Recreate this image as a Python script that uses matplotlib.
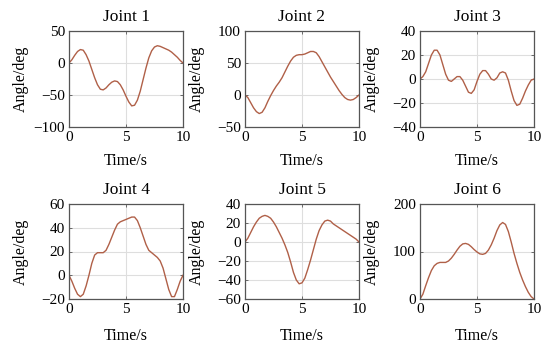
import numpy as np
import matplotlib
matplotlib.use("Agg")
import matplotlib.pyplot as plt

plt.rcParams['font.family'] = ['Liberation Serif', 'DejaVu Serif']
plt.rcParams['axes.unicode_minus'] = True

# time samples (s)
t = [i * 0.25 for i in range(41)]

# joint angles (deg)
joint1 = [0, 5, 12, 18, 21, 20, 13, 3, -10, -23, -34, -41, -42, -39, -34, -30, -28, -29, -34, -42,
          -52, -61, -67, -66, -58, -44, -26, -8, 8, 19, 25, 27, 26, 24, 22, 20, 17, 13, 9, 4, 0]
joint2 = [0, -4, -12, -20, -26, -29, -27, -20, -10, -1, 7, 14, 20, 27, 36, 45, 53, 59, 62, 63,
          63, 64, 66, 68, 68, 66, 60, 52, 44, 36, 28, 21, 14, 7, 1, -4, -7, -8, -7, -4, 0]
joint3 = [0, 2, 6, 13, 20, 24, 24, 20, 12, 4, -1, -2, 0, 2, 2, -1, -6, -11, -12, -9,
          -2, 4, 7, 7, 4, 0, -1, 1, 5, 6, 5, -1, -10, -18, -22, -21, -16, -10, -5, -1, 0]
joint4 = [0, -5, -11, -16, -18, -16, -9, 0, 10, 17, 19, 19, 19, 21, 26, 32, 38, 43, 45, 46,
          47, 48, 49, 49, 46, 40, 33, 26, 21, 19, 17, 15, 12, 6, -3, -12, -18, -18, -12, -5, 0]
joint5 = [0, 4, 10, 16, 21, 25, 27, 28, 27, 25, 21, 16, 10, 4, -3, -11, -21, -32, -40, -44,
          -43, -38, -29, -19, -8, 3, 12, 18, 22, 23, 22, 19, 17, 15, 13, 11, 9, 7, 5, 3, 0]
joint6 = [0, 10, 28, 45, 60, 70, 75, 77, 77, 77, 80, 86, 94, 103, 111, 116, 117, 115, 110, 104,
          99, 95, 94, 96, 103, 114, 128, 144, 156, 161, 157, 142, 120, 96, 75, 56, 40, 26, 14, 5, 0]

titles = ["Joint 1", "Joint 2", "Joint 3", "Joint 4", "Joint 5", "Joint 6"]
series = [joint1, joint2, joint3, joint4, joint5, joint6]
yticks = [[-100, -50, 0, 50], [-50, 0, 50, 100], [-40, -20, 0, 20, 40],
          [-20, 0, 20, 40, 60], [-60, -40, -20, 0, 20, 40], [0, 100, 200]]

W, H = 550, 348
fig = plt.figure(figsize=(W / 100, H / 100), dpi=100)

lefts = [69, 245, 420]
rows = [(31, 127), (204, 299)]
line_color = '#b06048'

for k in range(6):
    r, c = divmod(k, 3)
    top, bot = rows[r]
    ax = fig.add_axes([lefts[c] / W, 1 - bot / H, 114 / W, (bot - top) / H])
    ax.plot(t, series[k], color=line_color, lw=1.0)
    ax.set_xlim(0, 10)
    ax.set_ylim(yticks[k][0], yticks[k][-1])
    ax.set_xticks([0, 5, 10])
    ax.set_yticks(yticks[k])
    ax.grid(True, color='#dedede', lw=0.8)
    ax.set_axisbelow(True)
    for s in ax.spines.values():
        s.set_color('#555555')
        s.set_linewidth(0.9)
    ax.tick_params(direction='in', length=2, width=0.6, color='#555555',
                   labelsize=11, pad=3, top=True, right=True)
    ax.set_title(titles[k], fontsize=12.5, pad=7)
    ax.set_xlabel("Time/s", fontsize=11.5)
    ax.set_ylabel("Angle/deg", fontsize=11.5)
    ax.xaxis.set_label_coords(0.5, -0.27 if r == 0 else -0.30)
    ax.yaxis.set_label_coords(-0.35, 0.5)

fig.savefig("out.png", dpi=100)
